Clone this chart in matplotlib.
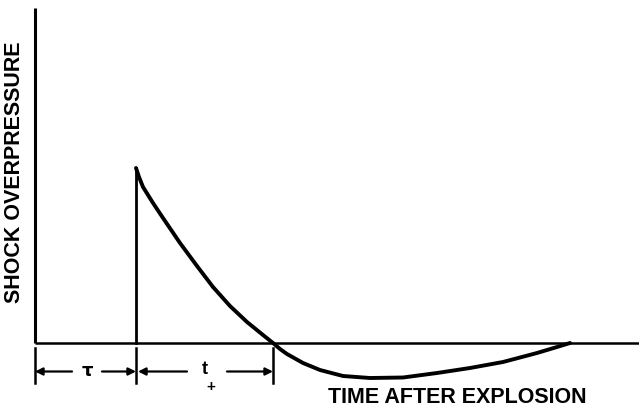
import numpy as np
import matplotlib
matplotlib.use('Agg')
import matplotlib.pyplot as plt

# time after explosion (arbitrary units) and shock overpressure
arrival = 1.01      # tau
t_plus_end = 2.38   # end of positive phase

time_pos = [1.01, 1.04, 1.08, 1.18, 1.28, 1.45, 1.62, 1.78, 1.95, 2.12, 2.28, 2.38]
press_pos = [1.75, 1.66, 1.56, 1.40, 1.25, 1.00, 0.77, 0.56, 0.37, 0.21, 0.08, 0.0]

time_neg = [2.38, 2.45, 2.52, 2.68, 2.85, 3.08, 3.35, 3.68, 4.02, 4.35, 4.68, 5.02, 5.22, 5.35]
press_neg = [0.0, -0.06, -0.11, -0.20, -0.27, -0.33, -0.35, -0.345, -0.30, -0.25, -0.19, -0.10, -0.04, 0.0]

xlabel = 'TIME AFTER EXPLOSION'
ylabel = 'SHOCK OVERPRESSURE'

plt.rcParams['font.family'] = ['Liberation Sans', 'DejaVu Sans']

fig = plt.figure(figsize=(6.39, 4.07), dpi=100)
ax = fig.add_axes([0, 0, 1, 1])
ax.set_xlim(-0.35, 6.04)
ax.set_ylim(-0.64, 3.43)
ax.axis('off')

# axes lines
ax.plot([0, 0], [0, 3.35], color='k', lw=2.2, solid_capstyle='butt')
ax.plot([0, 6.04], [0, 0], color='k', lw=1.8, solid_capstyle='butt')

# pressure curve
ax.plot([arrival, arrival], [0, press_pos[0]], color='k', lw=2.0)
t_all = time_pos + time_neg[1:]
p_all = press_pos + press_neg[1:]
ax.plot(t_all, p_all, color='k', lw=2.8, solid_joinstyle='round', solid_capstyle='round')

# dimension lines below the baseline
for xt in [0, arrival, t_plus_end]:
    ax.plot([xt, xt], [-0.05, -0.40], color='k', lw=1.8)

yd = -0.285
arr = dict(arrowstyle='-|>', lw=1.6, color='k', mutation_scale=11, shrinkA=0, shrinkB=0)
ax.annotate('', xy=(0, yd), xytext=(0.37, yd), arrowprops=arr)
ax.annotate('', xy=(arrival, yd), xytext=(0.67, yd), arrowprops=arr)
ax.annotate('', xy=(arrival + 0.02, yd), xytext=(1.52, yd), arrowprops=arr)
ax.annotate('', xy=(t_plus_end, yd), xytext=(1.92, yd), arrowprops=arr)

ax.text(0.52, yd, 'τ', ha='center', va='center', fontsize=13, fontweight='bold',
        family=['DejaVu Sans'])
ax.text(1.70, yd + 0.02, 't', ha='center', va='center', fontsize=13, fontweight='bold')
ax.text(1.76, yd - 0.15, '+', ha='center', va='center', fontsize=11, fontweight='bold')

ax.text(4.22, -0.545, xlabel, ha='center', va='center', fontsize=15.5, fontweight='bold')
ax.text(-0.20, 1.71, ylabel, ha='center', va='center', rotation=90, fontsize=15.5,
        fontweight='bold')

fig.savefig('out.png', dpi=100)
